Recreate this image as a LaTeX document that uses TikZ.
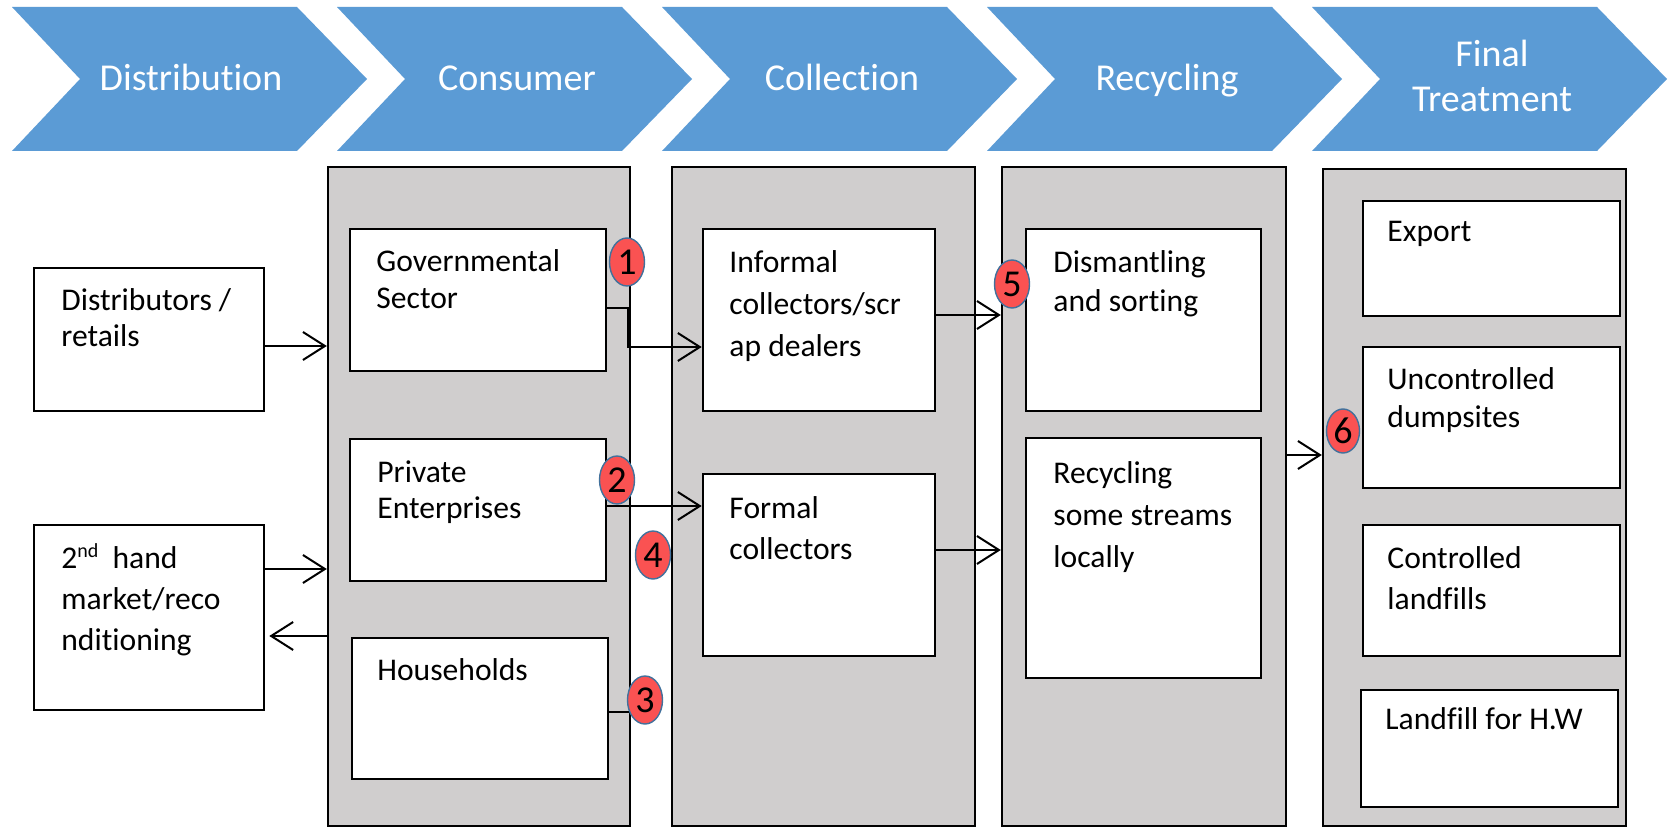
\documentclass[tikz,border=0pt]{standalone}
\usepackage{fontspec}
\setmainfont{Carlito}[Ligatures=NoCommon]
\usetikzlibrary{arrows.meta,shapes.geometric,fit}
\definecolor{chevblue}{RGB}{91,155,213}
\definecolor{panelgray}{RGB}{208,206,206}
\definecolor{badgered}{RGB}{250,82,82}
\definecolor{badgeedge}{RGB}{65,113,156}
\tikzset{
 chev/.style={fill=chevblue},
 chevtext/.style={text=white, font=\fontsize{19}{22}\selectfont, inner sep=0, anchor=base},
 panel/.style={draw=black, fill=panelgray, line width=1.2pt, inner sep=0},
 box/.style={draw=black, fill=white, line width=1.3pt, inner sep=0},
 txt/.style={font=\fontsize{15.8}{19}\selectfont, inner sep=0, anchor=base west},
 arr/.style={line width=1pt, -{Straight Barb[length=11pt,width=14pt,line width=1pt]}},
 link/.style={line width=1pt},
 badge/.style={ellipse, draw=badgeedge, line width=0.7pt, fill=badgered, minimum width=17.5pt, minimum height=24pt, inner sep=0, font=\fontsize{19}{20}\selectfont},
}
\begin{document}
\begin{tikzpicture}[x=0.5pt,y=-0.5pt]
\useasboundingbox (0,0) rectangle (1669,828);
\fill[white] (0,0) rectangle (1669,828);
% chevrons
\foreach \L in {12,337,662,987,1312}
  \fill[chev] (\L,7) -- ++(285,0) -- ++(70,72) -- ++(-70,72) -- ++(-285,0) -- ++(68,-72) -- cycle;
\node[chevtext] (h1) at (191,91) {Distribution};
\node[chevtext] (h2) at (517,91) {Consumer};
\node[chevtext] (h3) at (842,91) {Collection};
\node[chevtext] (h4) at (1167,91) {Recycling};
\node[chevtext] (h5a) at (1492,67) {Final};
\node[chevtext] (h5b) at (1492,112) {Treatment};
% panels
\node[panel, fit={(328,167) (630,826)}] (cons) {};
\node[panel, fit={(672,167) (975,826)}] (coll) {};
\node[panel, fit={(1002,167) (1286,826)}] (recp) {};
\node[panel, fit={(1323,169) (1626,826)}] (finp) {};
% boxes
\node[box, fit={(34,268) (264,411)}] (dist) {};
\node[box, fit={(34,525) (264,710)}] (second) {};
\node[box, fit={(350,229) (606,371)}] (gov) {};
\node[box, fit={(350,439) (606,581)}] (priv) {};
\node[box, fit={(352,638) (608,779)}] (house) {};
\node[box, fit={(703,229) (935,411)}] (inf) {};
\node[box, fit={(703,474) (935,656)}] (formal) {};
\node[box, fit={(1026,229) (1261,411)}] (dism) {};
\node[box, fit={(1026,438) (1261,678)}] (rloc) {};
\node[box, fit={(1363,201) (1620,316)}] (export) {};
\node[box, fit={(1363,347) (1620,488)}] (unc) {};
\node[box, fit={(1363,525) (1620,656)}] (ctrl) {};
\node[box, fit={(1361,690) (1618,807)}] (hw) {};
% texts
\node[txt] (tdist) at (61,311) {\vtop{\baselineskip=18pt\hbox{Distributors /}\hbox{retails}}};
\node[txt] (tsec) at (61,568) {\vtop{\baselineskip=20.7pt\hbox{2{\fontsize{10}{10}\selectfont\raisebox{0.55em}{nd}}\hspace{0.45em}hand}\hbox{market/reco}\hbox{nditioning}}};
\node[txt] (tgov) at (376,272) {\vtop{\baselineskip=18.5pt\hbox{Governmental}\hbox{Sector}}};
\node[txt] (tpriv) at (377,482) {\vtop{\baselineskip=18pt\hbox{Private}\hbox{Enterprises}}};
\node[txt] (thouse) at (377,680) {Households};
\node[txt] (tinf) at (729,273) {\vtop{\baselineskip=21pt\hbox{Informal}\hbox{collectors/scr}\hbox{ap dealers}}};
\node[txt] (tform) at (729,518) {\vtop{\baselineskip=20.5pt\hbox{Formal}\hbox{collectors}}};
\node[txt] (tdism) at (1053,273) {\vtop{\baselineskip=19.5pt\hbox{Dismantling}\hbox{and sorting}}};
\node[txt] (trloc) at (1053,483) {\vtop{\baselineskip=21pt\hbox{Recycling}\hbox{some streams}\hbox{locally}}};
\node[txt] (texp) at (1387,242) {Export};
\node[txt] (tunc) at (1387,389) {\vtop{\baselineskip=19pt\hbox{Uncontrolled}\hbox{dumpsites}}};
\node[txt] (tctrl) at (1387,568) {\vtop{\baselineskip=20.5pt\hbox{Controlled}\hbox{landfills}}};
\node[txt] (thw) at (1385,729) {Landfill for H.W};
% connectors
\coordinate (gk) at (628,347);
\draw[arr] (dist.east |- 0,346) -- (cons.west |- 0,346);
\draw[arr] (second.east |- 0,569) -- (cons.west |- 0,569);
\draw[arr, shorten >=2pt] (cons.west |- 0,636) -- (second.east |- 0,636);
\draw[arr] (gov.east |- 0,308) -| (gk) -- (inf.west |- gk);
\draw[arr] (priv.east |- 0,506) -- (formal.west |- 0,506);
\draw[link] (house.east |- 0,712) -- (cons.east |- 0,712);
\draw[arr] (inf.east |- 0,315) -- (recp.west |- 0,315);
\draw[arr] (formal.east |- 0,550) -- (recp.west |- 0,550);
\draw[arr] (recp.east |- 0,455) -- (finp.west |- 0,455);
% badges
\node[badge] (b1) at (627,262) {1};
\node[badge] (b2) at (617,480) {2};
\node[badge] (b3) at (645,700) {3};
\node[badge] (b4) at (653,555) {4};
\node[badge] (b5) at (1012,284) {5};
\node[badge, minimum width=16.5pt, minimum height=22pt] (b6) at (1343,431) {6};
\end{tikzpicture}
\end{document}
